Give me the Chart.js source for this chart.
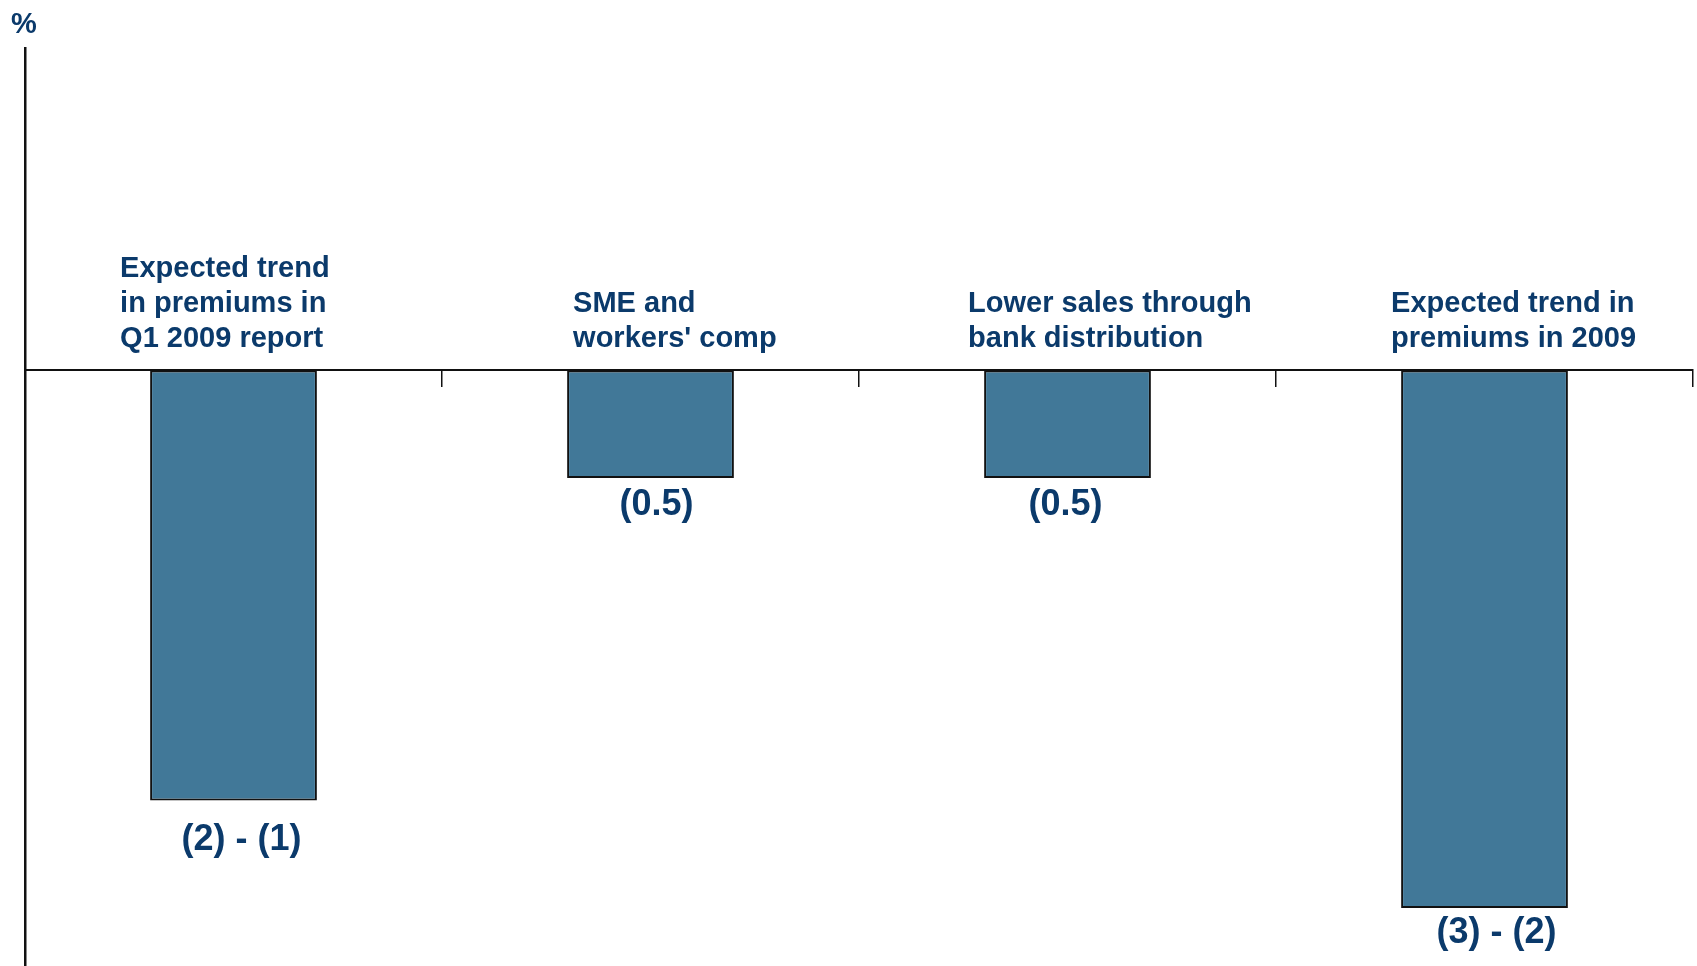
<!DOCTYPE html>
<html>
<head>
<meta charset="utf-8">
<script src="https://cdn.jsdelivr.net/npm/chart.js@4"></script>
<style>
  html, body { margin: 0; padding: 0; background: #ffffff; }
  #wrap { width: 1697px; height: 966px; position: relative; }
</style>
</head>
<body>
<div id="wrap"><canvas id="chart" width="1697" height="966"></canvas></div>
<script>
// Premium trend bridge (percentage points)
const categories = [
  ["Expected trend", "in premiums in", "Q1 2009 report"],
  ["SME and", "workers' comp"],
  ["Lower sales through", "bank distribution"],
  ["Expected trend in", "premiums in 2009"]
];
const values = [-2, -0.5, -0.5, -2.5];
const valueLabels = ["(2) - (1)", "(0.5)", "(0.5)", "(3) - (2)"];
const unitLabel = "%";

// Label placement tweaks relative to each bar (pixels)
const catLabelDx = [-30, 6, -16, -10];
const valLabelDx = [8, 6, -2, 12];
const valLabelDy = [50, 37, 37, 35];

const NAVY = "#0b3a6b";
const FONT = "'Liberation Sans', Arial, sans-serif";

const labelPlugin = {
  id: "barLabels",
  afterDatasetsDraw(chart) {
    const ctx = chart.ctx;
    const meta = chart.getDatasetMeta(0);
    const yZero = chart.scales.y.getPixelForValue(0);
    ctx.save();
    ctx.fillStyle = NAVY;
    ctx.textBaseline = "alphabetic";

    // category descriptions above the zero line
    ctx.font = "bold 29px " + FONT;
    ctx.textAlign = "left";
    meta.data.forEach((bar, i) => {
      const left = bar.x - bar.width / 2 + catLabelDx[i];
      const lines = categories[i];
      lines.forEach((line, j) => {
        const baseline = yZero - 23 - (lines.length - 1 - j) * 35;
        ctx.fillText(line, left, baseline);
      });
    });

    // value labels under each bar
    ctx.font = "bold 36px " + FONT;
    ctx.textAlign = "center";
    meta.data.forEach((bar, i) => {
      ctx.fillText(valueLabels[i], bar.x + valLabelDx[i], bar.y + valLabelDy[i]);
    });

    // unit marker at the top of the value axis
    ctx.font = "bold 29px " + FONT;
    ctx.textAlign = "left";
    ctx.fillText(unitLabel, 11, 33);
    ctx.restore();
  }
};

new Chart(document.getElementById("chart"), {
  type: "bar",
  data: {
    labels: categories.map(c => c.join(" ")),
    datasets: [{
      data: values,
      backgroundColor: "#417898",
      borderColor: "#111111",
      borderWidth: 2,
      borderSkipped: false,
      categoryPercentage: 1,
      barPercentage: 0.4
    }]
  },
  options: {
    responsive: false,
    animation: false,
    layout: { padding: { top: 48, right: 4, left: 0, bottom: 0 } },
    plugins: {
      legend: { display: false },
      tooltip: { enabled: false }
    },
    scales: {
      x: {
        position: { y: 0 },
        grid: {
          display: true,
          drawOnChartArea: false,
          drawTicks: true,
          tickLength: 16,
          color: "#111111",
          lineWidth: 1.5,
          offset: true
        },
        border: { display: true, color: "#111111", width: 2 },
        ticks: { display: false }
      },
      y: {
        min: -2.77,
        max: 1.5,
        grid: { display: false, drawTicks: false },
        border: { display: true, color: "#111111", width: 2.5 },
        ticks: { display: false },
        afterFit(scale) { scale.width = 25; }
      }
    }
  },
  plugins: [labelPlugin]
});
</script>
</body>
</html>
